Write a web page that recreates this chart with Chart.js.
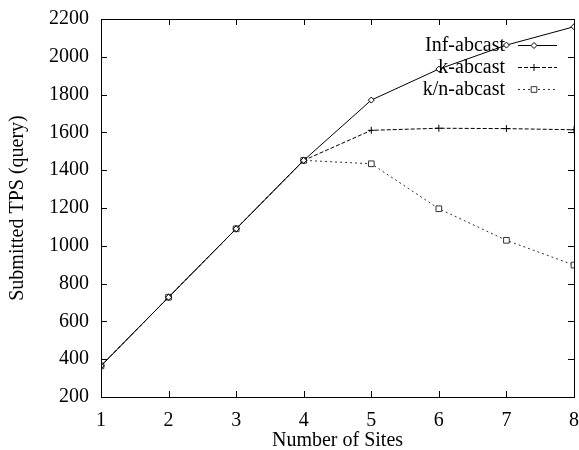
<!DOCTYPE html>
<html>
<head>
<meta charset="utf-8">
<script src="https://cdn.jsdelivr.net/npm/chart.js@4/dist/chart.umd.min.js"></script>
<style>
  html, body { margin: 0; padding: 0; background: #fff; }
  #chart { display: block; }
</style>
</head>
<body>
<canvas id="chart" width="579" height="450"></canvas>
<script>
// Number of sites on the x axis
const sites = [1, 2, 3, 4, 5, 6, 7, 8];

// Submitted TPS per protocol
const infAbcast = [365, 728, 1090, 1452, 1771, 1935, 2062, 2159];
const kAbcast = [365, 728, 1090, 1452, 1611, 1622, 1620, 1614];
const knAbcast = [365, 728, 1090, 1452, 1434, 1196, 1029, 898];

const yTicks = [200, 400, 600, 800, 1000, 1200, 1400, 1600, 1800, 2000, 2200];

const FONT = '"Liberation Serif", "Times New Roman", serif';

const series = [
  { label: 'Inf-abcast', values: infAbcast, dash: [], style: 'rectRot', radius: 3, color: '#000' },
  { label: 'k-abcast', values: kAbcast, dash: [4, 2], style: 'cross', radius: 3.5, color: '#000' },
  { label: 'k/n-abcast', values: knAbcast, dash: [2, 3], style: 'rect', radius: 4, color: '#333' }
];

// gnuplot-like frame with inward ticks on all four sides
const framePlugin = {
  id: 'frame',
  afterDraw(chart) {
    const { ctx, chartArea: a, scales } = chart;
    const len = 6;
    ctx.save();
    ctx.strokeStyle = '#000';
    ctx.lineWidth = 1;
    ctx.strokeRect(a.left + 0.5, a.top + 0.5, a.right - a.left, a.bottom - a.top);
    ctx.beginPath();
    sites.forEach(v => {
      const x = Math.round(scales.x.getPixelForValue(v)) + 0.5;
      ctx.moveTo(x, a.bottom); ctx.lineTo(x, a.bottom - len);
      ctx.moveTo(x, a.top); ctx.lineTo(x, a.top + len);
    });
    yTicks.forEach(v => {
      const y = Math.round(scales.y.getPixelForValue(v)) + 0.5;
      ctx.moveTo(a.left, y); ctx.lineTo(a.left + len, y);
      ctx.moveTo(a.right, y); ctx.lineTo(a.right - len, y);
    });
    ctx.stroke();
    ctx.restore();
  }
};

// key in the upper right corner: label, line sample, marker
const keyPlugin = {
  id: 'key',
  afterDatasetsDraw(chart) {
    const { ctx } = chart;
    const textRight = 505, x0 = 518, x1 = 557, rowY = [45, 67, 89];
    ctx.save();
    ctx.font = '20px ' + FONT;
    ctx.textAlign = 'right';
    ctx.textBaseline = 'middle';
    series.forEach((s, i) => {
      const y = rowY[i];
      ctx.fillStyle = '#000';
      ctx.fillText(s.label, textRight, y + 1);
      ctx.strokeStyle = s.color;
      ctx.lineWidth = 1;
      ctx.setLineDash(s.dash);
      ctx.beginPath();
      ctx.moveTo(x0, y + 0.5); ctx.lineTo(x1, y + 0.5);
      ctx.stroke();
      ctx.setLineDash([]);
      ctx.fillStyle = '#fff';
      Chart.helpers.drawPoint(ctx, {
        pointStyle: s.style, radius: s.radius, rotation: 0, borderWidth: 1
      }, 534, y + 0.5);
    });
    ctx.restore();
  }
};

new Chart(document.getElementById('chart'), {
  type: 'line',
  data: {
    datasets: series.map(s => ({
      label: s.label,
      data: sites.map((x, i) => ({ x: x, y: s.values[i] })),
      borderColor: s.color,
      borderWidth: 1,
      borderDash: s.dash,
      pointStyle: s.style,
      pointRadius: s.radius,
      pointBorderColor: s.color,
      pointBackgroundColor: '#fff',
      pointBorderWidth: 1,
      tension: 0,
      fill: false
    }))
  },
  options: {
    responsive: false,
    animation: false,
    devicePixelRatio: 1,
    layout: { padding: { top: 19, right: 4, left: 0, bottom: 0 } },
    plugins: {
      legend: { display: false },
      tooltip: { enabled: false }
    },
    scales: {
      x: {
        type: 'linear',
        min: 1,
        max: 8,
        grid: { display: false, drawTicks: false },
        border: { display: false },
        ticks: {
          stepSize: 1,
          padding: 12,
          color: '#000',
          font: { family: FONT, size: 20 },
          callback: v => String(v)
        },
        title: {
          display: true,
          text: 'Number of Sites',
          color: '#000',
          padding: { top: 0, bottom: 0 },
          font: { family: FONT, size: 20, lineHeight: 0.9 }
        },
        afterFit(scale) {
          scale.height = 53;
          scale.paddingLeft = 0;
          scale.paddingRight = 0;
        }
      },
      y: {
        min: 200,
        max: 2200,
        grid: { display: false, drawTicks: false },
        border: { display: false },
        afterBuildTicks(scale) { scale.ticks = yTicks.map(v => ({ value: v })); },
        ticks: {
          padding: 12,
          color: '#000',
          font: { family: FONT, size: 20 },
          callback: v => String(v)
        },
        title: {
          display: true,
          text: 'Submitted TPS (query)',
          color: '#000',
          padding: { top: 6, bottom: 0 },
          font: { family: FONT, size: 20 }
        },
        afterFit(scale) {
          scale.width = 101;
          scale.paddingTop = 0;
          scale.paddingBottom = 0;
        }
      }
    }
  },
  plugins: [framePlugin, keyPlugin]
});
</script>
</body>
</html>
